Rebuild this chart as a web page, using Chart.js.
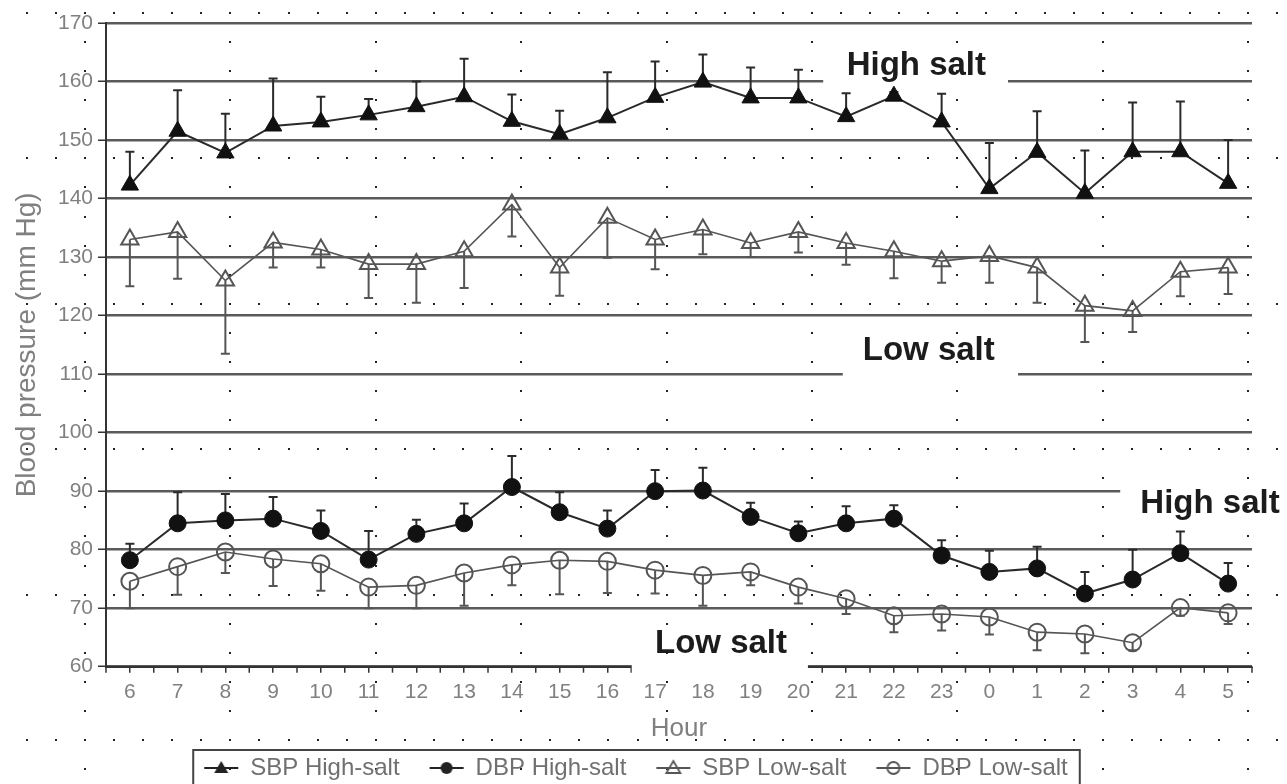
<!DOCTYPE html>
<html><head><meta charset="utf-8">
<script src="https://cdn.jsdelivr.net/npm/chart.js@4.4.1/dist/chart.umd.min.js"></script>
<style>html,body{margin:0;padding:0;background:#fff;}</style>
</head><body>
<canvas id="c" width="1287" height="784"></canvas>
<script>
const FONT = "'Liberation Sans', Arial, sans-serif";

const hours = ['6','7','8','9','10','11','12','13','14','15','16','17','18','19','20','21','22','23','0','1','2','3','4','5'];

const sbpHigh    = [142.3,151.5,147.8,152.4,153.1,154.3,155.7,157.4,153.2,151.0,153.8,157.3,159.9,157.2,157.2,154.0,157.5,153.1,141.7,147.9,140.9,148.0,148.0,142.6];
const sbpHighErr = [148.0,158.5,154.5,160.5,157.4,157.0,160.0,163.9,157.8,155.0,161.6,163.4,164.6,162.4,162.0,158.0,158.2,157.9,149.5,154.9,148.2,156.4,156.6,150.0];

const dbpHigh    = [78.2,84.5,85.0,85.3,83.2,78.3,82.7,84.5,90.7,86.4,83.6,90.0,90.1,85.6,82.8,84.5,85.3,79.0,76.2,76.8,72.5,74.9,79.4,74.2];
const dbpHighErr = [81.0,89.8,89.5,89.0,86.7,83.2,85.1,87.9,96.0,89.8,86.7,93.6,94.0,88.0,84.8,87.4,87.6,81.6,79.8,80.5,76.2,80.0,83.1,77.7];

const sbpLow     = [133.0,134.3,126.0,132.5,131.3,128.8,128.8,131.0,139.0,128.2,136.7,133.0,134.7,132.4,134.3,132.4,131.0,129.3,130.2,128.2,121.7,120.8,127.5,128.2];
const sbpLowErr  = [125.0,126.3,113.5,128.2,128.2,123.0,122.2,124.7,133.5,123.4,129.9,127.9,130.5,130.0,130.8,128.7,126.4,125.6,125.6,122.2,115.5,117.2,123.3,123.7];

const dbpLow     = [74.6,77.1,79.6,78.4,77.6,73.6,73.9,76.0,77.4,78.2,78.0,76.5,75.6,76.2,73.6,71.6,68.7,69.0,68.5,65.9,65.6,64.1,70.1,69.2];
const dbpLowErr  = [70.0,72.3,76.0,73.8,73.0,70.0,70.0,70.4,73.9,72.4,72.6,72.5,70.4,73.9,70.8,69.0,65.9,66.2,65.5,62.8,62.3,62.8,68.7,67.3];

const seriesNames = ['SBP High-salt','DBP High-salt','SBP Low-salt','DBP Low-salt'];

// annotation texts (category-index x, value y of baseline)
const noteTexts = ['High salt','Low salt','High salt','Low salt'];
const noteX = [16.47, 16.73, 22.62, 12.38];
const noteY = [161.1, 112.4, 86.3, 62.3];
// gaps in the horizontal rules (value, from index, to index)
const gapY    = [160, 110, 90, 60];
const gapFrom = [14.52, 14.93, 20.74, 10.51];
const gapTo   = [18.39, 18.60, 23.60, 14.20];

function makeIcon(kind){
  const cv = document.createElement('canvas');
  cv.width = 40; cv.height = 20;
  const c = cv.getContext('2d');
  const col = kind < 2 ? '#222' : '#555';
  c.strokeStyle = col; c.lineWidth = 2;
  c.beginPath(); c.moveTo(3,10); c.lineTo(37,10); c.stroke();
  c.fillStyle = col;
  if (kind === 0 || kind === 2){
    c.beginPath(); c.moveTo(20,3); c.lineTo(27,15); c.lineTo(13,15); c.closePath();
    if (kind === 0) c.fill(); else { c.lineWidth = 1.8; c.stroke(); }
  } else {
    c.beginPath(); c.arc(20,10,6,0,Math.PI*2);
    if (kind === 1) c.fill(); else { c.lineWidth = 1.8; c.stroke(); }
  }
  return cv;
}
const icons = [0,1,2,3].map(makeIcon);

const bgPlugin = {
  id:'bg',
  beforeDraw(chart){
    const ctx = chart.ctx;
    ctx.save();
    ctx.fillStyle = '#fff';
    ctx.fillRect(0,0,chart.width,chart.height);
    // scanner dot lattice
    ctx.fillStyle = '#222';
    const step = 29.08, x0 = 85, y0 = 13;
    for (let r = 0; r < 6; r++){
      const y = y0 + r*5*step;
      for (let x = x0 - 2*step; x < chart.width; x += step) ctx.fillRect(Math.round(x)-1, Math.round(y)-1, 2, 2);
    }
    for (let k = 0; k < 9; k++){
      const x = x0 + k*5*step;
      for (let y = y0; y < chart.height; y += step) ctx.fillRect(Math.round(x)-1, Math.round(y)-1, 2, 2);
    }
    ctx.restore();
  }
};

const decoPlugin = {
  id:'deco',
  beforeDatasetsDraw(chart){
    const ctx = chart.ctx, xs = chart.scales.x, ys = chart.scales.y;
    ctx.save();
    // between-category ticks on bottom axis
    ctx.strokeStyle = '#333'; ctx.lineWidth = 1.5;
    const yb = ys.getPixelForValue(60);
    for (let i = -0.5; i <= hours.length - 0.5; i += 1){
      const x = xs.getPixelForValue(i);
      ctx.beginPath(); ctx.moveTo(x, yb); ctx.lineTo(x, yb + 6); ctx.stroke();
    }
    // gaps in rules
    ctx.fillStyle = '#fff';
    for (let g = 0; g < gapY.length; g++){
      const y = ys.getPixelForValue(gapY[g]);
      const a = xs.getPixelForValue(gapFrom[g]), b = xs.getPixelForValue(gapTo[g]);
      ctx.fillRect(a, y - 4, b - a, 12);
    }
    // error bars
    const errs = [sbpHighErr, dbpHighErr, sbpLowErr, dbpLowErr];
    const cols = ['#2a2a2a','#2a2a2a','#555','#555'];
    chart.data.datasets.forEach((ds, di) => {
      const meta = chart.getDatasetMeta(di);
      ctx.strokeStyle = cols[di]; ctx.lineWidth = 2;
      meta.data.forEach((pt, i) => {
        const y1 = pt.y, y2 = ys.getPixelForValue(errs[di][i]);
        ctx.beginPath(); ctx.moveTo(pt.x, y1); ctx.lineTo(pt.x, y2);
        ctx.moveTo(pt.x - 4.5, y2); ctx.lineTo(pt.x + 4.5, y2); ctx.stroke();
      });
    });
    ctx.restore();
  },
  afterDatasetsDraw(chart){
    const ctx = chart.ctx, xs = chart.scales.x, ys = chart.scales.y;
    ctx.save();
    ctx.fillStyle = '#1c1c1c';
    ctx.font = "bold 33px " + FONT;
    ctx.textAlign = 'center'; ctx.textBaseline = 'alphabetic';
    for (let i = 0; i < noteTexts.length; i++){
      ctx.fillText(noteTexts[i], xs.getPixelForValue(noteX[i]), ys.getPixelForValue(noteY[i]));
    }
    ctx.restore();
  },
  afterDraw(chart){
    const lg = chart.legend;
    if (!lg || !lg.legendHitBoxes || !lg.legendHitBoxes.length) return;
    const hb = lg.legendHitBoxes;
    const first = hb[0], last = hb[hb.length-1];
    const cy = first.top + first.height/2;
    const ctx = chart.ctx;
    ctx.save();
    ctx.strokeStyle = '#444'; ctx.lineWidth = 2;
    const l = first.left - 11, r = last.left + last.width + 12;
    ctx.strokeRect(l, cy - 18, r - l, 36);
    ctx.restore();
  }
};

new Chart(document.getElementById('c'), {
  type:'line',
  data:{
    labels: hours,
    datasets:[
      {label:seriesNames[0], data:sbpHigh, borderColor:'#2a2a2a', borderWidth:2, pointStyle:'triangle', pointRadius:10,
       pointBackgroundColor:'#111', pointBorderColor:'#111', pointBorderWidth:1, tension:0},
      {label:seriesNames[1], data:dbpHigh, borderColor:'#2a2a2a', borderWidth:2, pointStyle:'circle', pointRadius:8.5,
       pointBackgroundColor:'#111', pointBorderColor:'#111', pointBorderWidth:1, tension:0},
      {label:seriesNames[2], data:sbpLow, borderColor:'#555', borderWidth:1.6, pointStyle:'triangle', pointRadius:10,
       pointBackgroundColor:'rgba(0,0,0,0)', pointBorderColor:'#555', pointBorderWidth:2, tension:0},
      {label:seriesNames[3], data:dbpLow, borderColor:'#555', borderWidth:1.6, pointStyle:'circle', pointRadius:8.5,
       pointBackgroundColor:'rgba(0,0,0,0)', pointBorderColor:'#555', pointBorderWidth:2, tension:0}
    ]
  },
  options:{
    responsive:false, animation:false, devicePixelRatio:1,
    layout:{padding:{top:23, right:35, bottom:0, left:20}},
    scales:{
      x:{
        offset:true,
        grid:{display:true, drawOnChartArea:false, drawTicks:true, tickLength:6, color:'#333', lineWidth:1.5},
        border:{display:true, color:'#333', width:2},
        ticks:{autoSkip:false, maxRotation:0, padding:7, color:'#808080', font:{family:FONT, size:21}},
        title:{display:true, text:'Hour', color:'#808080', font:{family:FONT, size:26}, padding:{top:0, bottom:-18.6}},
        afterFit(s){ s.height = 59.3; }
      },
      y:{
        min:60, max:170,
        ticks:{stepSize:10, padding:5, color:'#808080', font:{family:FONT, size:21}},
        grid:{color:'#5a5a5a', lineWidth:2.5, tickLength:8, tickColor:'#333', tickWidth:1.5},
        border:{display:true, color:'#333', width:2},
        title:{display:true, text:'Blood pressure (mm Hg)', color:'#808080', font:{family:FONT, size:28}, padding:{top:-10, bottom:0}},
        afterFit(s){ s.width = 86; }
      }
    },
    plugins:{
      tooltip:{enabled:false},
      legend:{
        position:'bottom', maxHeight:58,
        labels:{
          usePointStyle:true, pointStyleWidth:34, padding:30, color:'#707070',
          font:{family:FONT, size:24},
          generateLabels(chart){
            return chart.data.datasets.map((ds, i) => ({
              text: ds.label, pointStyle: icons[i], fillStyle:'#000', strokeStyle:'#000',
              lineWidth:0, hidden:false, datasetIndex:i, fontColor:'#707070'
            }));
          }
        }
      }
    }
  },
  plugins:[bgPlugin, decoPlugin]
});
</script>
</body></html>
